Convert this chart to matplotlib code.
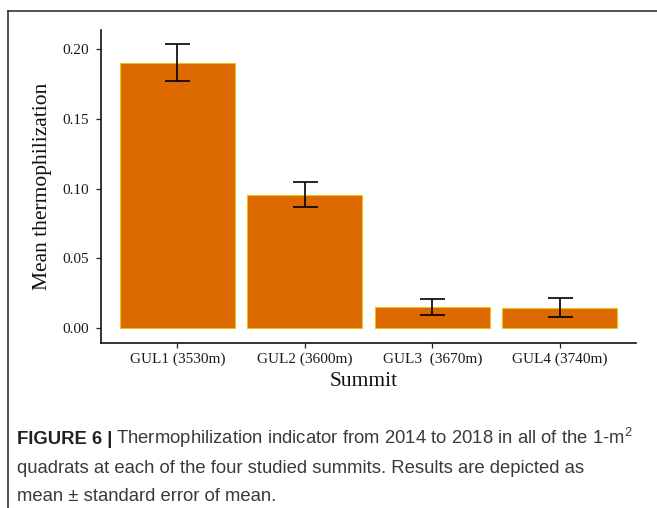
import numpy as np
import matplotlib
matplotlib.use('Agg')
import matplotlib.pyplot as plt
from matplotlib.lines import Line2D

plt.rcParams['mathtext.fontset'] = 'custom'
plt.rcParams['mathtext.rm'] = 'Liberation Sans'

# Mean thermophilization per summit with standard error
summits = ['GUL1 (3530m)', 'GUL2 (3600m)', 'GUL3  (3670m)', 'GUL4 (3740m)']
mean_thermo = [0.190, 0.0955, 0.0153, 0.0149]
se_thermo = [0.0133, 0.0090, 0.0055, 0.0068]

W, H = 657, 508
fig = plt.figure(figsize=(W / 100, H / 100), dpi=100)
fig.patch.set_facecolor('white')

# axes box in pixel terms
left, right, top, bottom = 101, 636, 30, 343
ax = fig.add_axes((left / W, 1 - bottom / H, (right - left) / W, (bottom - top) / H))

x = np.arange(1, len(summits) + 1)
ax.bar(x, mean_thermo, width=0.9, color='#DD6A00', edgecolor='#E9C21A',
       linewidth=0.8, zorder=2)
ax.errorbar(x, mean_thermo, yerr=se_thermo, fmt='none', ecolor='black',
            elinewidth=1.2, capsize=9, capthick=1.2, zorder=3)

ax.set_xlim(0.4, 4.6)
ax.set_ylim(-0.0105, 0.2135)
ax.set_yticks([0.0, 0.05, 0.10, 0.15, 0.20])
ax.set_yticklabels(['0.00', '0.05', '0.10', '0.15', '0.20'])
ax.set_xticks(x)
ax.set_xticklabels(summits)

for side in ('top', 'right'):
    ax.spines[side].set_visible(False)
for side in ('left', 'bottom'):
    ax.spines[side].set_linewidth(1.2)
    ax.spines[side].set_color('#111111')

ax.tick_params(axis='both', length=3.5, width=0.9, color='#222222',
               labelsize=11, labelcolor='#1a1a1a')
ax.tick_params(axis='y', pad=5)
ax.tick_params(axis='x', pad=3.5)
for lab in ax.get_xticklabels() + ax.get_yticklabels():
    lab.set_family('Liberation Serif')

fig.text(43 / W, 1 - 186 / H, 'Mean thermophilization', rotation=90,
         ha='center', va='center', family='Liberation Serif', fontsize=15.5,
         color='#111111')
fig.text(364 / W, 1 - 382 / H, 'Summit', ha='center', va='center',
         family='Liberation Serif', fontsize=15.5, color='#111111')

# frame lines (top and left)
fig.add_artist(Line2D([8 / W, 8 / W], [0, 1 - 11 / H], transform=fig.transFigure,
                      color='#333333', linewidth=1.2))
fig.add_artist(Line2D([8 / W, 1], [1 - 11 / H, 1 - 11 / H], transform=fig.transFigure,
                      color='#333333', linewidth=1.2))

# caption
cap_kw = dict(family='Liberation Sans', fontsize=13.3, color='#3a3a3a')
cap_x = 17 / W
t1 = fig.text(cap_x, 1 - 444 / H, 'FIGURE 6 |', fontweight='bold',
              va='baseline', family='Liberation Sans', fontsize=13.3, color='#222222')
renderer = fig.canvas.get_renderer()
bb = t1.get_window_extent(renderer)
fig.text(bb.x1 / W + 4 / W, 1 - 444 / H,
         'Thermophilization indicator from 2014 to 2018 in all of the 1-m$\\mathregular{^2}$',
         va='baseline', **cap_kw)
fig.text(cap_x, 1 - 473 / H,
         'quadrats at each of the four studied summits. Results are depicted as',
         va='baseline', **cap_kw)
fig.text(cap_x, 1 - 501 / H, 'mean \u00b1 standard error of mean.',
         va='baseline', **cap_kw)

fig.savefig('out.png', dpi=100, facecolor='white')
plt.close(fig)
